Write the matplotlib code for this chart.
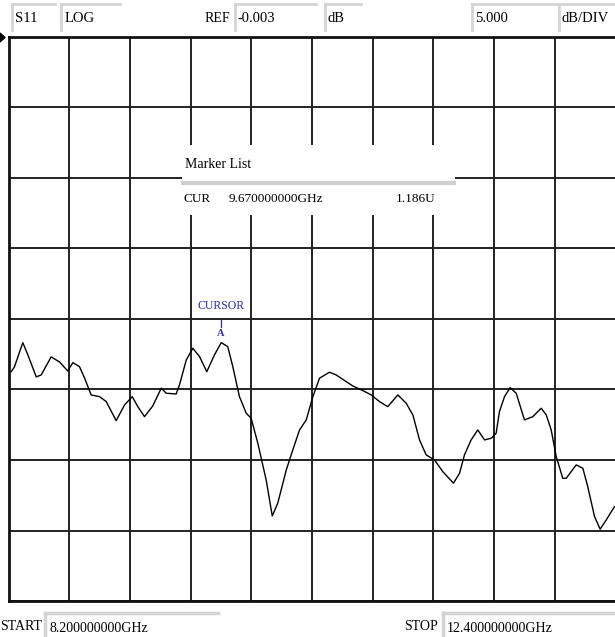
import matplotlib
matplotlib.use("Agg")
import matplotlib.pyplot as plt
import numpy as np
from matplotlib.patches import Rectangle

# S11 trace (GHz, dB)
freq = [8.219, 8.241, 8.299, 8.334, 8.392, 8.426, 8.495, 8.553, 8.610, 8.645,
        8.691, 8.726, 8.772, 8.830, 8.876, 8.945, 9.003, 9.056, 9.095, 9.141,
        9.198, 9.257, 9.291, 9.360, 9.383, 9.430, 9.475, 9.522, 9.572, 9.625,
        9.672, 9.717, 9.752, 9.798, 9.845, 9.879, 9.925, 9.983, 10.025, 10.063,
        10.122, 10.167, 10.214, 10.260, 10.306, 10.352, 10.421, 10.467, 10.582, 10.652,
        10.710, 10.767, 10.824, 10.894, 10.952, 10.998, 11.044, 11.090, 11.148, 11.205,
        11.279, 11.321, 11.355, 11.401, 11.447, 11.494, 11.540, 11.574, 11.597, 11.632,
        11.671, 11.713, 11.770, 11.828, 11.886, 11.921, 11.955, 11.990, 12.035, 12.059,
        12.128, 12.174, 12.208, 12.255, 12.294, 12.336, 12.393]
s11 = [-23.74, -23.40, -21.68, -22.55, -24.11, -23.97, -22.69, -23.05, -23.69, -23.10,
       -23.38, -24.18, -25.39, -25.51, -25.86, -27.21, -26.10, -25.51, -26.22, -26.93,
       -26.17, -24.91, -25.27, -25.32, -24.68, -22.91, -22.08, -22.67, -23.74, -22.55,
       -21.68, -21.96, -23.38, -25.51, -26.69, -27.04, -28.81, -31.42, -33.97, -33.07,
       -30.71, -29.29, -27.87, -27.16, -25.51, -24.20, -23.78, -23.97, -24.75, -25.08,
       -25.39, -25.86, -26.22, -25.39, -25.98, -26.81, -28.58, -29.64, -30.00, -30.83,
       -31.65, -30.94, -29.64, -28.58, -27.87, -28.58, -28.46, -28.11, -26.57, -25.51,
       -24.87, -25.27, -27.16, -26.93, -26.33, -26.81, -27.87, -29.76, -31.30, -31.30,
       -30.35, -30.59, -31.89, -34.02, -34.91, -34.25, -33.31]

f_start, f_stop = 8.2, 12.4
ref_db = -0.003
db_div = 5.0
cursor_f = 9.67
cursor_db = -21.68

W, H = 615, 637
fig = plt.figure(figsize=(W / 100, H / 100), dpi=100)
fnt = "Liberation Serif"

ax = fig.add_axes([8.5 / W, (H - 601) / H, 607 / W, 564 / H])
ax.set_xlim(f_start, f_stop)
ax.set_ylim(ref_db - 8 * db_div, ref_db)
ax.set_xticks(np.linspace(f_start, f_stop, 11))
ax.set_yticks(ref_db - db_div * np.arange(9))
ax.grid(True, color="#222222", lw=1.4)
ax.tick_params(length=0, labelbottom=False, labelleft=False)
for s in ax.spines.values():
    s.set_color("#111111")
    s.set_linewidth(2)
ax.plot(freq, s11, color="black", lw=1.0)

# cursor marker
ax.text(cursor_f, cursor_db + 2.6, "CURSOR", color="#2b2bb0", fontsize=8.5,
        family=fnt, ha="center", va="center")
ax.text(cursor_f, cursor_db + 0.35, "A", color="#2b2bb0", fontsize=7.5,
        family=fnt, ha="center", va="bottom", weight="bold")
ax.plot([cursor_f, cursor_f], [cursor_db + 1.1, cursor_db + 1.6], color="#2b2bb0", lw=0.9)

# overlay in pixel coordinates for the screen furniture
ov = fig.add_axes([0, 0, 1, 1])
ov.set_xlim(0, W)
ov.set_ylim(H, 0)
ov.axis("off")
ov.patch.set_alpha(0)

# header fields: (left, right, text, text x)
fields = [(12, 55, "S11", 15), (61, 120, "LOG", 65), (235, 316, "-0.003", 238),
          (325, 361, "dB", 328), (472, 557, "5.000", 475), (559, 615, "dB/DIV", 562)]
for x0, x1, txt, tx in fields:
    ov.plot([x0, x1], [4, 4], color="#d4d4d4", lw=2)
    ov.plot([x0, x0], [4, 30], color="#d4d4d4", lw=2)
    ov.text(tx, 19, txt, fontsize=10.5, family=fnt, va="center", ha="left")
ov.text(205, 18, "REF", fontsize=10, family=fnt, va="center", ha="left")

# reference level pointer
ov.fill([0, 5, 0], [33, 37.5, 42], color="black")

# start / stop fields
ov.text(0, 627, "START", fontsize=10, family=fnt, va="center", ha="left")
ov.plot([45, 218], [613, 613], color="#d4d4d4", lw=2.5)
ov.plot([45, 45], [613, 637], color="#d4d4d4", lw=2.5)
ov.text(49, 628, "%.9fGHz" % f_start, fontsize=10, family=fnt, va="center", ha="left")
ov.text(404, 627, "STOP", fontsize=10, family=fnt, va="center", ha="left")
ov.plot([443, 615], [613, 613], color="#d4d4d4", lw=2.5)
ov.plot([443, 443], [613, 637], color="#d4d4d4", lw=2.5)
ov.text(447, 628, "%.9fGHz" % f_stop, fontsize=10, family=fnt, va="center", ha="left")

# marker list box
ov.add_patch(Rectangle((182, 145), 273, 70, facecolor="white", edgecolor="none"))
ov.plot([183, 454], [183, 183], color="#d0d0d0", lw=3)
ov.text(185, 164, "Marker List", fontsize=10, family=fnt, va="center", ha="left")
ov.text(183, 199, "CUR", fontsize=9.5, family=fnt, va="center", ha="left")
ov.text(229, 199, "%.9fGHz" % cursor_f, fontsize=9.5, family=fnt, va="center", ha="left")
ov.text(435, 199, "1.186U", fontsize=9.5, family=fnt, va="center", ha="right")

fig.savefig("out.png", dpi=100)
